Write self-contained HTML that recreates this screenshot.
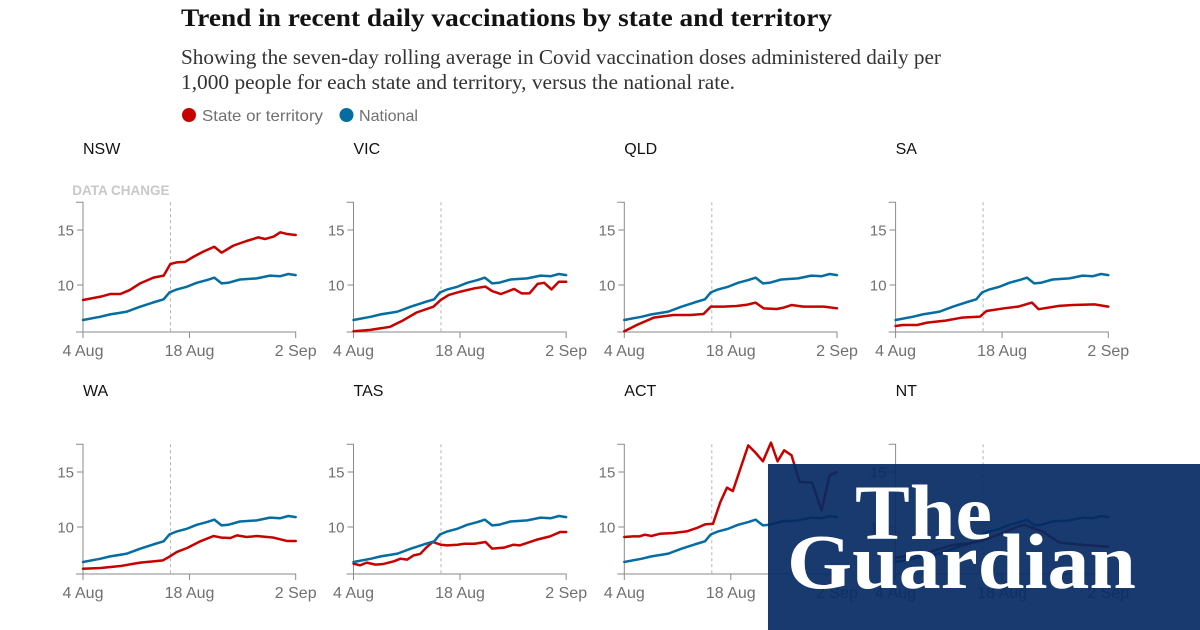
<!DOCTYPE html>
<html>
<head>
<meta charset="utf-8">
<style>
  html, body { margin: 0; padding: 0; background: #fff; }
  svg { display: block; }
  .ax { fill: none; stroke: #8a8a8a; stroke-width: 1; }
  .dash { fill: none; stroke: #b5b5b5; stroke-width: 1; stroke-dasharray: 3 3; }
  .yl { font-family: "Liberation Sans", sans-serif; font-size: 15px; fill: #707070; text-anchor: end; }
  .xl { font-family: "Liberation Sans", sans-serif; font-size: 16px; fill: #707070; text-anchor: middle; }
  .pt { font-family: "Liberation Sans", sans-serif; font-size: 16px; fill: #121212; }
  .red { fill: none; stroke: #c70000; stroke-width: 2.5; stroke-linejoin: round; stroke-linecap: round; }
  .blue { fill: none; stroke: #056da1; stroke-width: 2.5; stroke-linejoin: round; stroke-linecap: round; }
</style>
</head>
<body>
<svg width="1200" height="630" viewBox="0 0 1200 630" xmlns="http://www.w3.org/2000/svg">
  <rect x="0" y="0" width="1200" height="630" fill="#ffffff"/>

  <!-- Header -->
  <text x="181" y="26" font-family="'Liberation Serif', serif" font-weight="bold" font-size="25" fill="#121212" textLength="651" lengthAdjust="spacingAndGlyphs">Trend in recent daily vaccinations by state and territory</text>
  <text x="181" y="64" font-family="'Liberation Serif', serif" font-size="21" fill="#333333" textLength="760" lengthAdjust="spacingAndGlyphs">Showing the seven-day rolling average in Covid vaccination doses administered daily per</text>
  <text x="181" y="89" font-family="'Liberation Serif', serif" font-size="21" fill="#333333" textLength="554" lengthAdjust="spacingAndGlyphs">1,000 people for each state and territory, versus the national rate.</text>

  <!-- Legend -->
  <circle cx="189" cy="115" r="7" fill="#c70000"/>
  <text x="202" y="121" font-family="'Liberation Sans', sans-serif" font-size="16" fill="#707070" textLength="121" lengthAdjust="spacingAndGlyphs">State or territory</text>
  <circle cx="346.5" cy="115" r="7" fill="#056da1"/>
  <text x="359" y="121" font-family="'Liberation Sans', sans-serif" font-size="16" fill="#707070" textLength="59" lengthAdjust="spacingAndGlyphs">National</text>

  <!-- ============ PANEL NSW ============ -->
  <g transform="translate(83,285)">
    <text class="pt" x="0" y="-131">NSW</text>
    <text x="86.5" y="-90" text-anchor="end" font-family="'Liberation Sans', sans-serif" font-weight="bold" font-size="13.5" fill="#c8c8c8">DATA CHANGE</text>
    <path class="dash" d="M87.5,-82.7V47"/>
    <path class="ax" d="M-7,-82.7H0V47H-7"/>
    <path class="ax" d="M0,53V47H212.7V53M106.5,47V53M-6,-55H0M-6,0H0"/>
    <text class="yl" x="-9" y="-49.5">15</text>
    <text class="yl" x="-9" y="5.5">10</text>
    <text class="xl" x="0" y="71">4 Aug</text>
    <text class="xl" x="106.5" y="71">18 Aug</text>
    <text class="xl" x="212.7" y="71">2 Sep</text>
    <g transform="translate(0,110) scale(7.334,-11)">
      <path class="blue" vector-effect="non-scaling-stroke" d="M0,6.82 L2.4,7.12 L3.7,7.33 L5.1,7.48 L6,7.58 L7.8,8.03 L9.6,8.42 L11,8.7 L11.8,9.33 L12.8,9.6 L14.2,9.85 L15.5,10.2 L16.9,10.45 L17.9,10.67 L18.9,10.15 L19.8,10.2 L21.4,10.5 L23.7,10.6 L25.5,10.85 L26.9,10.8 L28,11.0 L29,10.9"/>
      <path class="red" vector-effect="non-scaling-stroke" d="M0,8.64 L2.4,8.94 L3.7,9.18 L5.1,9.18 L6.4,9.55 L7.8,10.15 L9.6,10.67 L11,10.85 L11.9,11.9 L12.8,12.06 L13.9,12.1 L15.1,12.58 L16.4,13.03 L17.9,13.48 L18.9,12.94 L20.5,13.58 L22.3,14.0 L23.9,14.33 L24.8,14.18 L26,14.4 L26.9,14.79 L27.8,14.64 L29,14.55"/>
    </g>
  </g>

  <!-- ============ PANEL VIC ============ -->
  <g transform="translate(353.5,285)">
    <text class="pt" x="0" y="-131">VIC</text>
    <path class="dash" d="M87.5,-82.7V47"/>
    <path class="ax" d="M-7,-82.7H0V47H-7"/>
    <path class="ax" d="M0,53V47H212.7V53M106.5,47V53M-6,-55H0M-6,0H0"/>
    <text class="yl" x="-9" y="-49.5">15</text>
    <text class="yl" x="-9" y="5.5">10</text>
    <text class="xl" x="0" y="71">4 Aug</text>
    <text class="xl" x="106.5" y="71">18 Aug</text>
    <text class="xl" x="212.7" y="71">2 Sep</text>
    <g transform="translate(0,110) scale(7.334,-11)">
      <path class="blue" vector-effect="non-scaling-stroke" d="M0,6.82 L2.4,7.12 L3.7,7.33 L5.1,7.48 L6,7.58 L7.8,8.03 L9.6,8.42 L11,8.7 L11.8,9.33 L12.8,9.6 L14.2,9.85 L15.5,10.2 L16.9,10.45 L17.9,10.67 L18.9,10.15 L19.8,10.2 L21.4,10.5 L23.7,10.6 L25.5,10.85 L26.9,10.8 L28,11.0 L29,10.9"/>
      <path class="red" vector-effect="non-scaling-stroke" d="M0,5.8 L2.3,5.92 L5,6.2 L6.8,6.8 L8.6,7.5 L10.9,8.03 L11.9,8.64 L13,9.1 L14.6,9.4 L16.5,9.7 L18,9.85 L18.9,9.45 L20.1,9.18 L21.9,9.64 L22.9,9.24 L24,9.24 L25.1,10.1 L26,10.2 L27,9.6 L28,10.3 L29,10.3"/>
    </g>
  </g>

  <!-- ============ PANEL QLD ============ -->
  <g transform="translate(624.3,285)">
    <text class="pt" x="0" y="-131">QLD</text>
    <path class="dash" d="M87.5,-82.7V47"/>
    <path class="ax" d="M-7,-82.7H0V47H-7"/>
    <path class="ax" d="M0,53V47H212.7V53M106.5,47V53M-6,-55H0M-6,0H0"/>
    <text class="yl" x="-9" y="-49.5">15</text>
    <text class="yl" x="-9" y="5.5">10</text>
    <text class="xl" x="0" y="71">4 Aug</text>
    <text class="xl" x="106.5" y="71">18 Aug</text>
    <text class="xl" x="212.7" y="71">2 Sep</text>
    <g transform="translate(0,110) scale(7.334,-11)">
      <path class="blue" vector-effect="non-scaling-stroke" d="M0,6.82 L2.4,7.12 L3.7,7.33 L5.1,7.48 L6,7.58 L7.8,8.03 L9.6,8.42 L11,8.7 L11.8,9.33 L12.8,9.6 L14.2,9.85 L15.5,10.2 L16.9,10.45 L17.9,10.67 L18.9,10.15 L19.8,10.2 L21.4,10.5 L23.7,10.6 L25.5,10.85 L26.9,10.8 L28,11.0 L29,10.9"/>
      <path class="red" vector-effect="non-scaling-stroke" d="M0,5.8 L1.7,6.36 L4,7.03 L6.7,7.27 L9,7.27 L10.8,7.36 L11.8,8.03 L13.5,8.03 L15.3,8.09 L16.7,8.2 L17.9,8.4 L19,7.88 L20.8,7.82 L21.7,7.94 L22.8,8.18 L24.4,8.03 L27.2,8.03 L29,7.88"/>
    </g>
  </g>

  <!-- ============ PANEL SA ============ -->
  <g transform="translate(895.6,285)">
    <text class="pt" x="0" y="-131">SA</text>
    <path class="dash" d="M87.5,-82.7V47"/>
    <path class="ax" d="M-7,-82.7H0V47H-7"/>
    <path class="ax" d="M0,53V47H212.7V53M106.5,47V53M-6,-55H0M-6,0H0"/>
    <text class="yl" x="-9" y="-49.5">15</text>
    <text class="yl" x="-9" y="5.5">10</text>
    <text class="xl" x="0" y="71">4 Aug</text>
    <text class="xl" x="106.5" y="71">18 Aug</text>
    <text class="xl" x="212.7" y="71">2 Sep</text>
    <g transform="translate(0,110) scale(7.334,-11)">
      <path class="blue" vector-effect="non-scaling-stroke" d="M0,6.82 L2.4,7.12 L3.7,7.33 L5.1,7.48 L6,7.58 L7.8,8.03 L9.6,8.42 L11,8.7 L11.8,9.33 L12.8,9.6 L14.2,9.85 L15.5,10.2 L16.9,10.45 L17.9,10.67 L18.9,10.15 L19.8,10.2 L21.4,10.5 L23.7,10.6 L25.5,10.85 L26.9,10.8 L28,11.0 L29,10.9"/>
      <path class="red" vector-effect="non-scaling-stroke" d="M0,6.27 L1,6.36 L2.9,6.36 L4.3,6.58 L6.8,6.76 L9,7.03 L11.5,7.12 L12.4,7.64 L14.8,7.88 L16.7,8.03 L18.6,8.4 L19.5,7.8 L22.3,8.1 L24.2,8.18 L27.1,8.24 L29,8.03"/>
    </g>
  </g>

  <!-- ============ PANEL WA ============ -->
  <g transform="translate(83,527)">
    <text class="pt" x="0" y="-131">WA</text>
    <path class="dash" d="M87.5,-82.7V47"/>
    <path class="ax" d="M-7,-82.7H0V47H-7"/>
    <path class="ax" d="M0,53V47H212.7V53M106.5,47V53M-6,-55H0M-6,0H0"/>
    <text class="yl" x="-9" y="-49.5">15</text>
    <text class="yl" x="-9" y="5.5">10</text>
    <text class="xl" x="0" y="71">4 Aug</text>
    <text class="xl" x="106.5" y="71">18 Aug</text>
    <text class="xl" x="212.7" y="71">2 Sep</text>
    <g transform="translate(0,110) scale(7.334,-11)">
      <path class="blue" vector-effect="non-scaling-stroke" d="M0,6.82 L2.4,7.12 L3.7,7.33 L5.1,7.48 L6,7.58 L7.8,8.03 L9.6,8.42 L11,8.7 L11.8,9.33 L12.8,9.6 L14.2,9.85 L15.5,10.2 L16.9,10.45 L17.9,10.67 L18.9,10.15 L19.8,10.2 L21.4,10.5 L23.7,10.6 L25.5,10.85 L26.9,10.8 L28,11.0 L29,10.9"/>
      <path class="red" vector-effect="non-scaling-stroke" d="M0,6.21 L2.4,6.27 L5.1,6.45 L7.8,6.76 L9.6,6.88 L10.9,6.97 L11.7,7.27 L12.8,7.73 L14.2,8.09 L16,8.7 L17.8,9.18 L18.9,9.03 L20.1,9.0 L21,9.24 L22.3,9.09 L23.7,9.18 L26,9.03 L27.8,8.73 L29,8.73"/>
    </g>
  </g>

  <!-- ============ PANEL TAS ============ -->
  <g transform="translate(353.5,527)">
    <text class="pt" x="0" y="-131">TAS</text>
    <path class="dash" d="M87.5,-82.7V47"/>
    <path class="ax" d="M-7,-82.7H0V47H-7"/>
    <path class="ax" d="M0,53V47H212.7V53M106.5,47V53M-6,-55H0M-6,0H0"/>
    <text class="yl" x="-9" y="-49.5">15</text>
    <text class="yl" x="-9" y="5.5">10</text>
    <text class="xl" x="0" y="71">4 Aug</text>
    <text class="xl" x="106.5" y="71">18 Aug</text>
    <text class="xl" x="212.7" y="71">2 Sep</text>
    <g transform="translate(0,110) scale(7.334,-11)">
      <path class="red" vector-effect="non-scaling-stroke" d="M0,6.67 L0.9,6.52 L1.8,6.76 L3,6.58 L4.1,6.64 L5.5,6.88 L6.4,7.12 L7.3,7.03 L8.2,7.42 L9.1,7.55 L10,8.18 L10.8,8.64 L11.9,8.39 L12.8,8.33 L14.2,8.39 L15.1,8.48 L16.5,8.48 L18,8.64 L18.9,8.03 L20.5,8.12 L21.8,8.39 L22.7,8.33 L25,8.85 L26.8,9.15 L28.2,9.55 L29,9.55"/>
      <path class="blue" vector-effect="non-scaling-stroke" d="M0,6.82 L2.4,7.12 L3.7,7.33 L5.1,7.48 L6,7.58 L7.8,8.03 L9.6,8.42 L11,8.7 L11.8,9.33 L12.8,9.6 L14.2,9.85 L15.5,10.2 L16.9,10.45 L17.9,10.67 L18.9,10.15 L19.8,10.2 L21.4,10.5 L23.7,10.6 L25.5,10.85 L26.9,10.8 L28,11.0 L29,10.9"/>
    </g>
  </g>

  <!-- ============ PANEL ACT ============ -->
  <g transform="translate(624.3,527)">
    <text class="pt" x="0" y="-131">ACT</text>
    <path class="dash" d="M87.5,-82.7V47"/>
    <path class="ax" d="M-7,-82.7H0V47H-7"/>
    <path class="ax" d="M0,53V47H212.7V53M106.5,47V53M-6,-55H0M-6,0H0"/>
    <text class="yl" x="-9" y="-49.5">15</text>
    <text class="yl" x="-9" y="5.5">10</text>
    <text class="xl" x="0" y="71">4 Aug</text>
    <text class="xl" x="106.5" y="71">18 Aug</text>
    <text class="xl" x="212.7" y="71">2 Sep</text>
    <g transform="translate(0,110) scale(7.334,-11)">
      <path class="blue" vector-effect="non-scaling-stroke" d="M0,6.82 L2.4,7.12 L3.7,7.33 L5.1,7.48 L6,7.58 L7.8,8.03 L9.6,8.42 L11,8.7 L11.8,9.33 L12.8,9.6 L14.2,9.85 L15.5,10.2 L16.9,10.45 L17.9,10.67 L18.9,10.15 L19.8,10.2 L21.4,10.5 L23.7,10.6 L25.5,10.85 L26.9,10.8 L28,11.0 L29,10.9"/>
      <path class="red" vector-effect="non-scaling-stroke" d="M0,9.09 L1.2,9.15 L2.1,9.15 L2.8,9.3 L3.7,9.18 L4.9,9.39 L6.7,9.45 L8.5,9.6 L9.9,9.91 L11,10.24 L12.1,10.3 L13.1,12.27 L14,13.58 L14.8,13.27 L16.9,17.42 L17.8,16.82 L18.9,15.97 L20,17.67 L20.9,15.97 L21.8,16.97 L22.8,16.52 L23.9,14.09 L25.6,14.03 L26.9,11.52 L28,14.7 L29,15.0"/>
    </g>
  </g>

  <!-- ============ PANEL NT ============ -->
  <g transform="translate(895.6,527)">
    <text class="pt" x="0" y="-131">NT</text>
    <path class="dash" d="M87.5,-82.7V47"/>
    <path class="ax" d="M-7,-82.7H0V47H-7"/>
    <path class="ax" d="M0,53V47H212.7V53M106.5,47V53M-6,-55H0M-6,0H0"/>
    <text class="yl" x="-9" y="-49.5">15</text>
    <text class="yl" x="-9" y="5.5">10</text>
    <text class="xl" x="0" y="71">4 Aug</text>
    <text class="xl" x="106.5" y="71">18 Aug</text>
    <text class="xl" x="212.7" y="71">2 Sep</text>
    <g transform="translate(0,110) scale(7.334,-11)">
      <path class="blue" vector-effect="non-scaling-stroke" d="M0,6.82 L2.4,7.12 L3.7,7.33 L5.1,7.48 L6,7.58 L7.8,8.03 L9.6,8.42 L11,8.7 L11.8,9.33 L12.8,9.6 L14.2,9.85 L15.5,10.2 L16.9,10.45 L17.9,10.67 L18.9,10.15 L19.8,10.2 L21.4,10.5 L23.7,10.6 L25.5,10.85 L26.9,10.8 L28,11.0 L29,10.9"/>
      <path class="red" vector-effect="non-scaling-stroke" d="M0,7.2 L4,7.6 L8,8.4 L10,8.5 L12,8.8 L14,9.3 L16.5,10.0 L17.5,10.2 L20,9.6 L22.3,8.6 L25,8.4 L29,8.2"/>
    </g>
  </g>

  <!-- ============ Guardian overlay ============ -->
  <rect x="768" y="464" width="432" height="166" fill="#052962" fill-opacity="0.92"/>
  <text x="855" y="539" font-family="'Liberation Serif', serif" font-weight="bold" font-size="78" fill="#ffffff" textLength="137" lengthAdjust="spacingAndGlyphs">The</text>
  <text x="787" y="588" font-family="'Liberation Serif', serif" font-weight="bold" font-size="78" fill="#ffffff" textLength="349" lengthAdjust="spacingAndGlyphs">Guardian</text>
</svg>
</body>
</html>
